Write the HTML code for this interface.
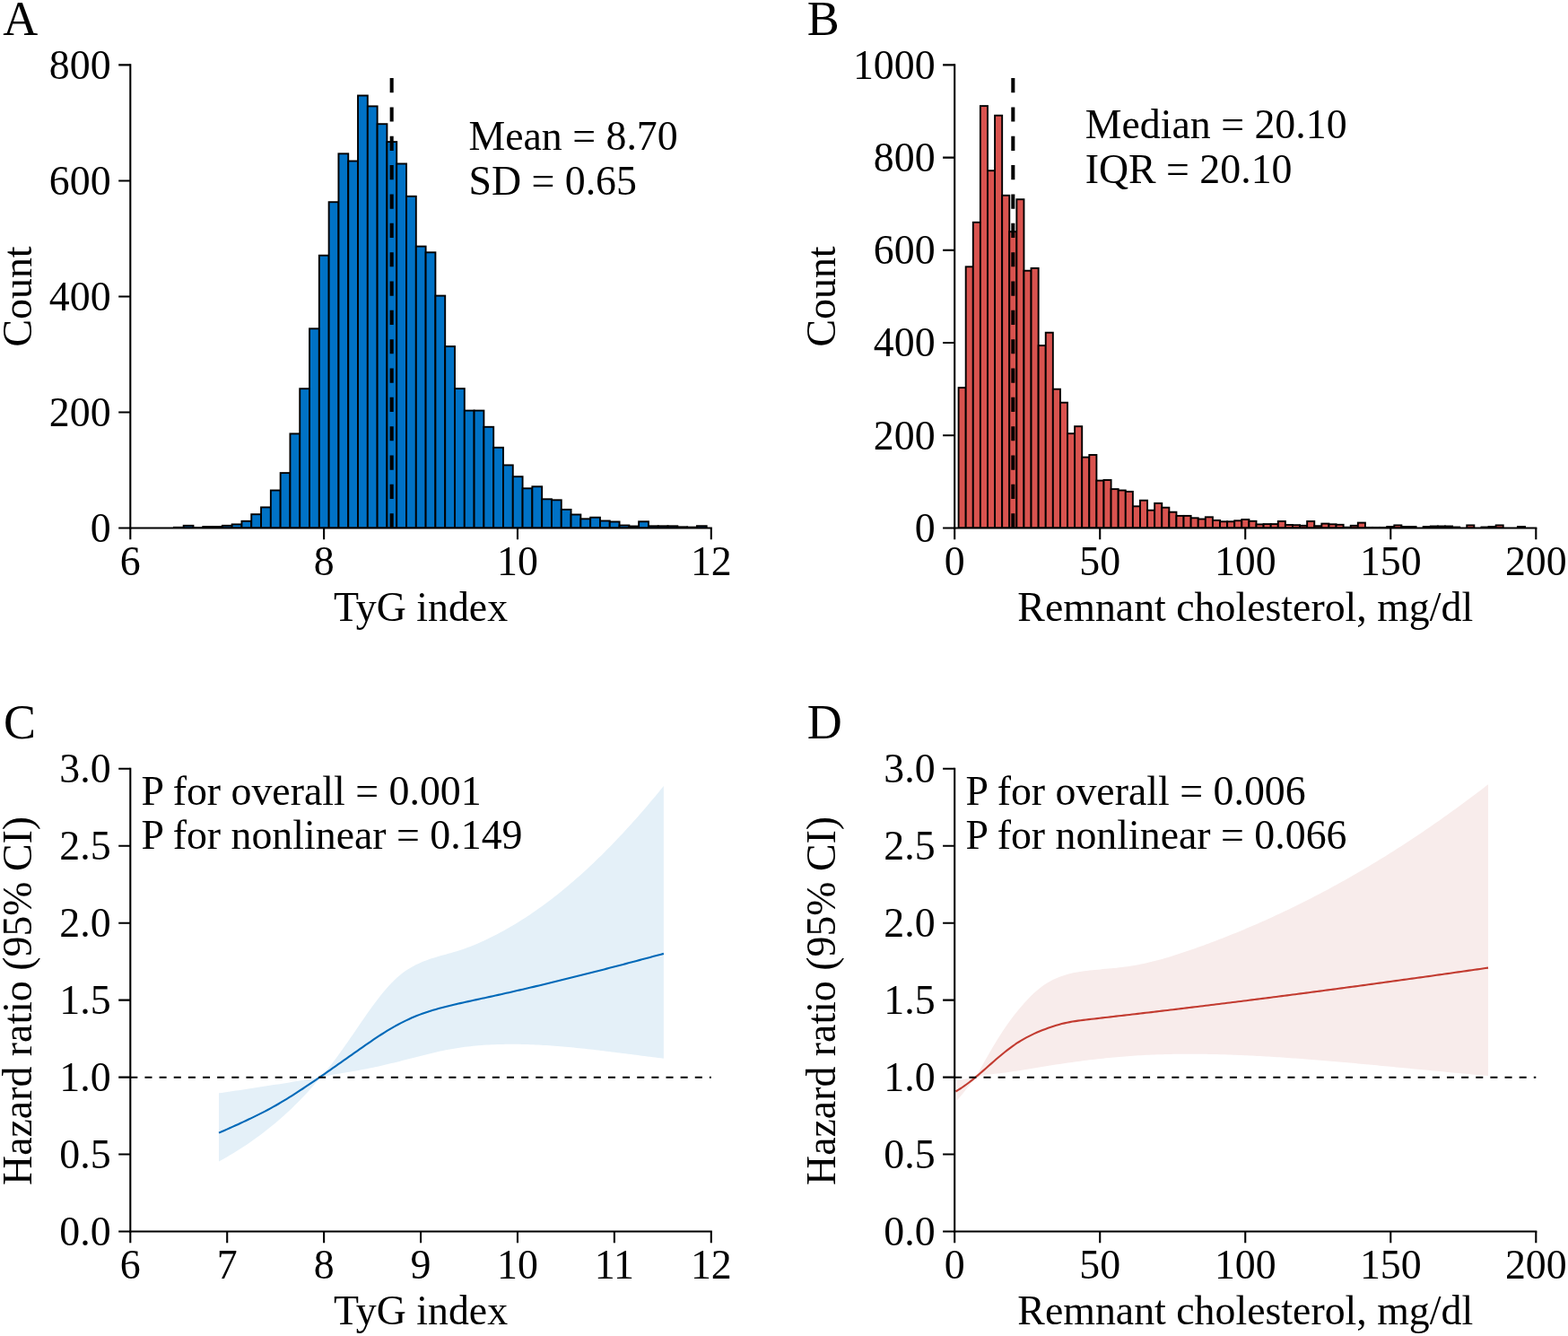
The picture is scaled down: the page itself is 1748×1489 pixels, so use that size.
<!DOCTYPE html>
<html lang="en">
<head>
<meta charset="utf-8">
<title>Distribution and hazard ratio of TyG index and remnant cholesterol</title>
<style>
html,body{margin:0;padding:0;background:#fff;}
body{width:1748px;height:1489px;overflow:hidden;}
svg{display:block;font-family:"Liberation Serif", "Times New Roman", serif;}
</style>
</head>
<body>
<svg width="1748" height="1489" viewBox="0 0 1748 1489">
<rect width="1748" height="1489" fill="#fff"/>
<clipPath id="clip0072C6"><rect x="145.3" y="0" width="649.5" height="589"/></clipPath>
<g fill="#0072C6" stroke="#000" stroke-width="1.9" stroke-linejoin="miter" clip-path="url(#clip0072C6)">
<rect x="193.88" y="587.8" width="10.8" height="0.7"/>
<rect x="204.68" y="585.8" width="10.8" height="2.7"/>
<rect x="215.47" y="588.1" width="10.8" height="0.4"/>
<rect x="226.27" y="587" width="10.8" height="1.5"/>
<rect x="237.07" y="587" width="10.8" height="1.5"/>
<rect x="247.87" y="585.8" width="10.8" height="2.7"/>
<rect x="258.66" y="584.4" width="10.8" height="4.1"/>
<rect x="269.46" y="580.8" width="10.8" height="7.7"/>
<rect x="280.26" y="573.2" width="10.8" height="15.3"/>
<rect x="291.05" y="565.4" width="10.8" height="23.1"/>
<rect x="301.85" y="546.5" width="10.8" height="42"/>
<rect x="312.65" y="527.1" width="10.8" height="61.4"/>
<rect x="323.44" y="483.4" width="10.8" height="105.1"/>
<rect x="334.24" y="433.2" width="10.8" height="155.3"/>
<rect x="345.04" y="366.3" width="10.8" height="222.2"/>
<rect x="355.84" y="284.7" width="10.8" height="303.8"/>
<rect x="366.63" y="225.2" width="10.8" height="363.3"/>
<rect x="377.43" y="171.3" width="10.8" height="417.2"/>
<rect x="388.23" y="179.5" width="10.8" height="409"/>
<rect x="399.02" y="106.5" width="10.8" height="482"/>
<rect x="409.82" y="118.4" width="10.8" height="470.1"/>
<rect x="420.62" y="138.2" width="10.8" height="450.3"/>
<rect x="431.41" y="158.1" width="10.8" height="430.4"/>
<rect x="442.21" y="182.5" width="10.8" height="406"/>
<rect x="453.01" y="218.8" width="10.8" height="369.7"/>
<rect x="463.81" y="274.6" width="10.8" height="313.9"/>
<rect x="474.6" y="281.3" width="10.8" height="307.2"/>
<rect x="485.4" y="329.6" width="10.8" height="258.9"/>
<rect x="496.2" y="386.1" width="10.8" height="202.4"/>
<rect x="506.99" y="433.1" width="10.8" height="155.4"/>
<rect x="517.79" y="457.6" width="10.8" height="130.9"/>
<rect x="528.59" y="457.6" width="10.8" height="130.9"/>
<rect x="539.38" y="475.8" width="10.8" height="112.7"/>
<rect x="550.18" y="498.8" width="10.8" height="89.7"/>
<rect x="560.98" y="518.4" width="10.8" height="70.1"/>
<rect x="571.78" y="531.2" width="10.8" height="57.3"/>
<rect x="582.57" y="544.3" width="10.8" height="44.2"/>
<rect x="593.37" y="542.3" width="10.8" height="46.2"/>
<rect x="604.17" y="556.3" width="10.8" height="32.2"/>
<rect x="614.96" y="557.3" width="10.8" height="31.2"/>
<rect x="625.76" y="567.9" width="10.8" height="20.6"/>
<rect x="636.56" y="573.5" width="10.8" height="15"/>
<rect x="647.35" y="578.3" width="10.8" height="10.2"/>
<rect x="658.15" y="576.7" width="10.8" height="11.8"/>
<rect x="668.95" y="580.5" width="10.8" height="8"/>
<rect x="679.75" y="581.5" width="10.8" height="7"/>
<rect x="690.54" y="585.5" width="10.8" height="3"/>
<rect x="701.34" y="586.5" width="10.8" height="2"/>
<rect x="712.14" y="581.3" width="10.8" height="7.2"/>
<rect x="722.93" y="586.3" width="10.8" height="2.2"/>
<rect x="733.73" y="586.3" width="10.8" height="2.2"/>
<rect x="744.53" y="586.3" width="10.8" height="2.2"/>
<rect x="755.32" y="587.3" width="10.8" height="1.2"/>
<rect x="766.12" y="587.6" width="10.8" height="0.9"/>
<rect x="776.92" y="586.2" width="10.8" height="2.3"/>
</g>
<path d="M436.67 87.1V588.5" stroke="#000" stroke-width="4.04" stroke-dasharray="16.17 16.17" fill="none"/>
<g stroke="#000" stroke-width="2.08" fill="none" stroke-linecap="butt">
<path d="M145.3 71.36V589.54"/>
<path d="M144.26 588.5H793.84"/>
<path d="M145.3 588.5v12.8M361.13 588.5v12.8M576.97 588.5v12.8M792.8 588.5v12.8M145.3 588.5h-13.1M145.3 459.48h-13.1M145.3 330.45h-13.1M145.3 201.43h-13.1M145.3 72.4h-13.1"/>
</g>
<g font-size="45.83" fill="#000" text-anchor="middle">
<text x="145.3" y="640.5">6</text>
<text x="361.13" y="640.5">8</text>
<text x="576.97" y="640.5">10</text>
<text x="792.8" y="640.5">12</text>
<text x="469.05" y="691.6">TyG index</text>
<text transform="translate(35 330.45) rotate(-90)">Count</text>
</g>
<g font-size="45.83" fill="#000" text-anchor="end">
<text x="123.6" y="603.8">0</text>
<text x="123.6" y="474.78">200</text>
<text x="123.6" y="345.75">400</text>
<text x="123.6" y="216.73">600</text>
<text x="123.6" y="87.7">800</text>
</g>
<text x="3.3" y="39" font-size="54">A</text>
<text x="522.4" y="167.1" font-size="45.83">Mean = 8.70</text>
<text x="522.4" y="216.6" font-size="45.83">SD = 0.65</text>
<clipPath id="clipD9534F"><rect x="1064.2" y="0" width="650.1" height="589"/></clipPath>
<g fill="#D9534F" stroke="#000" stroke-width="1.9" stroke-linejoin="miter" clip-path="url(#clipD9534F)">
<rect x="1068.6" y="432.1" width="8.1" height="156.4"/>
<rect x="1076.69" y="297.3" width="8.1" height="291.2"/>
<rect x="1084.79" y="247.8" width="8.1" height="340.7"/>
<rect x="1092.88" y="118.1" width="8.1" height="470.4"/>
<rect x="1100.98" y="190.2" width="8.1" height="398.3"/>
<rect x="1109.07" y="128.7" width="8.1" height="459.8"/>
<rect x="1117.17" y="217.8" width="8.1" height="370.7"/>
<rect x="1125.26" y="258.2" width="8.1" height="330.3"/>
<rect x="1133.36" y="222.2" width="8.1" height="366.3"/>
<rect x="1141.45" y="301.7" width="8.1" height="286.8"/>
<rect x="1149.55" y="298.9" width="8.1" height="289.6"/>
<rect x="1157.64" y="385.1" width="8.1" height="203.4"/>
<rect x="1165.74" y="370.7" width="8.1" height="217.8"/>
<rect x="1173.84" y="433.7" width="8.1" height="154.8"/>
<rect x="1181.93" y="448.7" width="8.1" height="139.8"/>
<rect x="1190.02" y="483.2" width="8.1" height="105.3"/>
<rect x="1198.12" y="475.2" width="8.1" height="113.3"/>
<rect x="1206.21" y="509.6" width="8.1" height="78.9"/>
<rect x="1214.31" y="507" width="8.1" height="81.5"/>
<rect x="1222.4" y="535.6" width="8.1" height="52.9"/>
<rect x="1230.5" y="535" width="8.1" height="53.5"/>
<rect x="1238.59" y="545.1" width="8.1" height="43.4"/>
<rect x="1246.69" y="546.5" width="8.1" height="42"/>
<rect x="1254.78" y="547.9" width="8.1" height="40.6"/>
<rect x="1262.88" y="564.3" width="8.1" height="24.2"/>
<rect x="1270.97" y="557.7" width="8.1" height="30.8"/>
<rect x="1279.07" y="568.7" width="8.1" height="19.8"/>
<rect x="1287.16" y="560.9" width="8.1" height="27.6"/>
<rect x="1295.26" y="565.7" width="8.1" height="22.8"/>
<rect x="1303.36" y="570.7" width="8.1" height="17.8"/>
<rect x="1311.45" y="574.9" width="8.1" height="13.6"/>
<rect x="1319.54" y="574.9" width="8.1" height="13.6"/>
<rect x="1327.64" y="577.3" width="8.1" height="11.2"/>
<rect x="1335.73" y="578.5" width="8.1" height="10"/>
<rect x="1343.83" y="576.3" width="8.1" height="12.2"/>
<rect x="1351.92" y="579.9" width="8.1" height="8.6"/>
<rect x="1360.02" y="581.3" width="8.1" height="7.2"/>
<rect x="1368.12" y="581.3" width="8.1" height="7.2"/>
<rect x="1376.21" y="580.3" width="8.1" height="8.2"/>
<rect x="1384.3" y="579" width="8.1" height="9.5"/>
<rect x="1392.4" y="580.8" width="8.1" height="7.7"/>
<rect x="1400.49" y="584.4" width="8.1" height="4.1"/>
<rect x="1408.59" y="584.1" width="8.1" height="4.4"/>
<rect x="1416.68" y="584.1" width="8.1" height="4.4"/>
<rect x="1424.78" y="581" width="8.1" height="7.5"/>
<rect x="1432.88" y="585" width="8.1" height="3.5"/>
<rect x="1440.97" y="585.2" width="8.1" height="3.3"/>
<rect x="1449.07" y="585.8" width="8.1" height="2.7"/>
<rect x="1457.16" y="581" width="8.1" height="7.5"/>
<rect x="1465.25" y="586.2" width="8.1" height="2.3"/>
<rect x="1473.35" y="583.6" width="8.1" height="4.9"/>
<rect x="1481.44" y="584.3" width="8.1" height="4.2"/>
<rect x="1489.54" y="584.8" width="8.1" height="3.7"/>
<rect x="1497.63" y="587.7" width="8.1" height="0.8"/>
<rect x="1505.73" y="585.8" width="8.1" height="2.7"/>
<rect x="1513.82" y="582.6" width="8.1" height="5.9"/>
<rect x="1521.92" y="587.9" width="8.1" height="0.6"/>
<rect x="1530.01" y="587.9" width="8.1" height="0.6"/>
<rect x="1538.11" y="587.9" width="8.1" height="0.6"/>
<rect x="1546.2" y="587" width="8.1" height="1.5"/>
<rect x="1554.3" y="585.4" width="8.1" height="3.1"/>
<rect x="1562.39" y="587" width="8.1" height="1.5"/>
<rect x="1570.49" y="587" width="8.1" height="1.5"/>
<rect x="1586.68" y="587" width="8.1" height="1.5"/>
<rect x="1594.78" y="586.5" width="8.1" height="2"/>
<rect x="1602.87" y="586.5" width="8.1" height="2"/>
<rect x="1610.96" y="586.5" width="8.1" height="2"/>
<rect x="1619.06" y="587.5" width="8.1" height="1"/>
<rect x="1635.25" y="585.4" width="8.1" height="3.1"/>
<rect x="1651.44" y="587.5" width="8.1" height="1"/>
<rect x="1659.53" y="587" width="8.1" height="1.5"/>
<rect x="1667.63" y="585.4" width="8.1" height="3.1"/>
<rect x="1691.91" y="587" width="8.1" height="1.5"/>
</g>
<path d="M1129.33 87.1V588.5" stroke="#000" stroke-width="4.04" stroke-dasharray="16.17 16.17" fill="none"/>
<g stroke="#000" stroke-width="2.08" fill="none" stroke-linecap="butt">
<path d="M1064.2 71.36V589.54"/>
<path d="M1063.16 588.5H1713.34"/>
<path d="M1064.2 588.5v12.8M1226.22 588.5v12.8M1388.25 588.5v12.8M1550.28 588.5v12.8M1712.3 588.5v12.8M1064.2 588.5h-13.1M1064.2 485.28h-13.1M1064.2 382.06h-13.1M1064.2 278.84h-13.1M1064.2 175.62h-13.1M1064.2 72.4h-13.1"/>
</g>
<g font-size="45.83" fill="#000" text-anchor="middle">
<text x="1064.2" y="640.5">0</text>
<text x="1226.22" y="640.5">50</text>
<text x="1388.25" y="640.5">100</text>
<text x="1550.28" y="640.5">150</text>
<text x="1712.3" y="640.5">200</text>
<text x="1388.25" y="691.6">Remnant cholesterol, mg/dl</text>
<text transform="translate(930.5 330.45) rotate(-90)">Count</text>
</g>
<g font-size="45.83" fill="#000" text-anchor="end">
<text x="1042.6" y="603.8">0</text>
<text x="1042.6" y="500.58">200</text>
<text x="1042.6" y="397.36">400</text>
<text x="1042.6" y="294.14">600</text>
<text x="1042.6" y="190.92">800</text>
<text x="1042.6" y="87.7">1000</text>
</g>
<text x="899.8" y="39" font-size="54">B</text>
<text x="1209.7" y="154.2" font-size="45.83">Median = 20.10</text>
<text x="1209.7" y="203.5" font-size="45.83">IQR = 20.10</text>
<path d="M244 1218.37L247.15 1217.91L250.29 1217.45L253.44 1216.99L256.59 1216.53L259.74 1216.06L262.88 1215.6L266.03 1215.13L269.18 1214.66L272.32 1214.19L275.47 1213.72L278.62 1213.24L281.77 1212.76L284.91 1212.28L288.06 1211.8L291.21 1211.32L294.36 1210.83L297.5 1210.35L300.65 1209.86L303.8 1209.37L306.94 1208.87L310.09 1208.38L313.24 1207.88L316.39 1207.38L319.53 1206.88L322.68 1206.38L325.83 1205.87L328.98 1205.36L332.12 1204.85L335.27 1204.34L338.42 1203.83L341.56 1203.31L344.71 1202.79L347.86 1202.27L351.01 1201.75L354.15 1201.23L357.3 1200.7L360.34 1197.3L363.37 1193.74L366.41 1190.04L369.44 1186.21L372.48 1182.27L375.52 1178.21L378.55 1174.07L381.59 1169.84L384.62 1165.55L387.66 1161.21L390.7 1156.83L393.73 1152.41L396.77 1147.98L399.81 1143.54L402.84 1139.12L405.88 1134.72L408.91 1130.36L411.95 1126.07L414.99 1121.85L418.02 1117.73L421.06 1113.71L424.09 1109.81L427.13 1106.05L430.17 1102.44L433.2 1099L436.24 1095.74L439.27 1092.69L442.31 1089.85L445.35 1087.22L448.38 1084.8L451.42 1082.57L454.46 1080.53L457.49 1078.65L460.53 1076.93L463.56 1075.36L466.6 1073.91L469.64 1072.57L472.67 1071.33L475.71 1070.17L478.74 1069.1L481.78 1068.08L484.82 1067.13L487.85 1066.21L490.89 1065.34L493.93 1064.48L496.96 1063.64L500 1062.79L503.03 1061.94L506.07 1061.06L509.11 1060.15L512.14 1059.19L515.18 1058.19L518.21 1057.13L521.25 1056.03L524.29 1054.88L527.32 1053.69L530.36 1052.45L533.39 1051.16L536.43 1049.83L539.47 1048.46L542.5 1047.05L545.54 1045.59L548.58 1044.1L551.61 1042.56L554.65 1040.99L557.68 1039.37L560.72 1037.72L563.76 1036.03L566.79 1034.3L569.83 1032.54L572.86 1030.74L575.9 1028.9L578.94 1027.03L581.97 1025.11L585.01 1023.16L588.04 1021.18L591.08 1019.15L594.12 1017.09L597.15 1015L600.19 1012.86L603.23 1010.69L606.26 1008.48L609.3 1006.24L612.33 1003.95L615.37 1001.63L618.41 999.28L621.44 996.89L624.48 994.46L627.51 991.99L630.55 989.49L633.59 986.95L636.62 984.37L639.66 981.76L642.69 979.11L645.73 976.42L648.77 973.7L651.8 970.95L654.84 968.15L657.88 965.32L660.91 962.46L663.95 959.56L666.98 956.62L670.02 953.65L673.06 950.64L676.09 947.6L679.13 944.52L682.16 941.41L685.2 938.27L688.24 935.09L691.27 931.87L694.31 928.63L697.34 925.35L700.38 922.03L703.42 918.68L706.45 915.31L709.49 911.89L712.52 908.45L715.56 904.98L718.6 901.47L721.63 897.93L724.67 894.37L727.71 890.77L730.74 887.14L733.78 883.49L736.81 879.81L739.85 876.09L739.85 1179.66L736.81 1179.29L733.78 1178.92L730.74 1178.54L727.71 1178.16L724.67 1177.78L721.63 1177.4L718.6 1177.02L715.56 1176.63L712.52 1176.24L709.49 1175.86L706.45 1175.47L703.42 1175.08L700.38 1174.69L697.34 1174.31L694.31 1173.92L691.27 1173.54L688.24 1173.15L685.2 1172.77L682.16 1172.39L679.13 1172.02L676.09 1171.65L673.06 1171.28L670.02 1170.92L666.98 1170.56L663.95 1170.2L660.91 1169.85L657.88 1169.51L654.84 1169.17L651.8 1168.84L648.77 1168.52L645.73 1168.2L642.69 1167.89L639.66 1167.59L636.62 1167.3L633.59 1167.01L630.55 1166.74L627.51 1166.47L624.48 1166.22L621.44 1165.97L618.41 1165.74L615.37 1165.51L612.33 1165.3L609.3 1165.1L606.26 1164.92L603.23 1164.74L600.19 1164.58L597.15 1164.44L594.12 1164.3L591.08 1164.19L588.04 1164.08L585.01 1164L581.97 1163.92L578.94 1163.87L575.9 1163.83L572.86 1163.81L569.83 1163.8L566.79 1163.81L563.76 1163.84L560.72 1163.89L557.68 1163.96L554.65 1164.04L551.61 1164.15L548.58 1164.28L545.54 1164.43L542.5 1164.6L539.47 1164.8L536.43 1165.01L533.39 1165.26L530.36 1165.53L527.32 1165.82L524.29 1166.14L521.25 1166.49L518.21 1166.87L515.18 1167.28L512.14 1167.71L509.11 1168.18L506.07 1168.67L503.03 1169.2L500 1169.76L496.96 1170.35L493.93 1170.97L490.89 1171.61L487.85 1172.28L484.82 1172.97L481.78 1173.69L478.74 1174.42L475.71 1175.16L472.67 1175.92L469.64 1176.68L466.6 1177.45L463.56 1178.23L460.53 1179.01L457.49 1179.79L454.46 1180.58L451.42 1181.35L448.38 1182.12L445.35 1182.89L442.31 1183.64L439.27 1184.39L436.24 1185.12L433.2 1185.85L430.17 1186.56L427.13 1187.26L424.09 1187.95L421.06 1188.63L418.02 1189.28L414.99 1189.93L411.95 1190.56L408.91 1191.17L405.88 1191.76L402.84 1192.33L399.81 1192.88L396.77 1193.42L393.73 1193.94L390.7 1194.45L387.66 1194.95L384.62 1195.46L381.59 1195.96L378.55 1196.48L375.52 1197.01L372.48 1197.56L369.44 1198.12L366.41 1198.72L363.37 1199.34L360.34 1200L357.3 1200.7L354.15 1204.45L351.01 1208.12L347.86 1211.7L344.71 1215.21L341.56 1218.64L338.42 1221.99L335.27 1225.26L332.12 1228.47L328.98 1231.6L325.83 1234.67L322.68 1237.66L319.53 1240.59L316.39 1243.46L313.24 1246.26L310.09 1249L306.94 1251.67L303.8 1254.29L300.65 1256.85L297.5 1259.36L294.36 1261.81L291.21 1264.2L288.06 1266.55L284.91 1268.84L281.77 1271.08L278.62 1273.27L275.47 1275.41L272.32 1277.51L269.18 1279.56L266.03 1281.56L262.88 1283.52L259.74 1285.44L256.59 1287.31L253.44 1289.14L250.29 1290.94L247.15 1292.69L244 1294.41Z" fill="#E4F0F8" stroke="none"/>
<path d="M244 1262.66L247.02 1261.31L250.05 1259.97L253.07 1258.62L256.09 1257.27L259.12 1255.91L262.14 1254.54L265.16 1253.17L268.19 1251.79L271.21 1250.4L274.23 1248.99L277.26 1247.56L280.28 1246.12L283.31 1244.66L286.33 1243.18L289.35 1241.67L292.38 1240.13L295.4 1238.57L298.42 1236.97L301.45 1235.34L304.47 1233.67L307.49 1231.97L310.52 1230.23L313.54 1228.46L316.56 1226.66L319.59 1224.82L322.61 1222.96L325.63 1221.07L328.66 1219.15L331.68 1217.21L334.7 1215.24L337.73 1213.25L340.75 1211.24L343.77 1209.21L346.8 1207.17L349.82 1205.11L352.85 1203.04L355.87 1200.95L358.89 1198.86L361.92 1196.77L364.94 1194.66L367.96 1192.55L370.99 1190.44L374.01 1188.32L377.03 1186.19L380.06 1184.07L383.08 1181.94L386.1 1179.81L389.13 1177.68L392.15 1175.55L395.17 1173.42L398.2 1171.29L401.22 1169.17L404.24 1167.05L407.27 1164.95L410.29 1162.86L413.31 1160.78L416.34 1158.73L419.36 1156.7L422.39 1154.71L425.41 1152.75L428.43 1150.84L431.46 1148.97L434.48 1147.15L437.5 1145.38L440.53 1143.66L443.55 1142L446.57 1140.4L449.6 1138.85L452.62 1137.37L455.64 1135.94L458.67 1134.58L461.69 1133.29L464.71 1132.05L467.74 1130.88L470.76 1129.77L473.78 1128.71L476.81 1127.7L479.83 1126.73L482.85 1125.81L485.88 1124.93L488.9 1124.08L491.93 1123.27L494.95 1122.48L497.97 1121.72L501 1120.97L504.02 1120.24L507.04 1119.52L510.07 1118.82L513.09 1118.13L516.11 1117.45L519.14 1116.78L522.16 1116.11L525.18 1115.45L528.21 1114.8L531.23 1114.15L534.25 1113.49L537.28 1112.84L540.3 1112.19L543.32 1111.53L546.35 1110.87L549.37 1110.21L552.39 1109.54L555.42 1108.87L558.44 1108.2L561.46 1107.52L564.49 1106.84L567.51 1106.15L570.54 1105.47L573.56 1104.78L576.58 1104.08L579.61 1103.39L582.63 1102.69L585.65 1101.98L588.68 1101.28L591.7 1100.57L594.72 1099.86L597.75 1099.14L600.77 1098.43L603.79 1097.71L606.82 1096.98L609.84 1096.26L612.86 1095.53L615.89 1094.79L618.91 1094.06L621.93 1093.32L624.96 1092.58L627.98 1091.84L631 1091.1L634.03 1090.35L637.05 1089.6L640.08 1088.84L643.1 1088.09L646.12 1087.33L649.15 1086.57L652.17 1085.81L655.19 1085.04L658.22 1084.28L661.24 1083.51L664.26 1082.74L667.29 1081.96L670.31 1081.19L673.33 1080.41L676.36 1079.63L679.38 1078.85L682.4 1078.07L685.43 1077.28L688.45 1076.49L691.47 1075.7L694.5 1074.91L697.52 1074.12L700.54 1073.33L703.57 1072.53L706.59 1071.73L709.62 1070.93L712.64 1070.13L715.66 1069.33L718.69 1068.53L721.71 1067.72L724.73 1066.92L727.76 1066.11L730.78 1065.3L733.8 1064.49L736.83 1063.68L739.85 1062.87" fill="none" stroke="#0069B8" stroke-width="2.1" stroke-linejoin="round"/>
<path d="M145.3 1200.7H792.8" stroke="#000" stroke-width="1.9" stroke-dasharray="8.07 8.07" fill="none"/>
<g stroke="#000" stroke-width="2.08" fill="none" stroke-linecap="butt">
<path d="M145.3 855.76V1373.54"/>
<path d="M144.26 1372.5H793.84"/>
<path d="M145.3 1372.5v12.8M253.22 1372.5v12.8M361.13 1372.5v12.8M469.05 1372.5v12.8M576.97 1372.5v12.8M684.88 1372.5v12.8M792.8 1372.5v12.8M145.3 1372.5h-13.1M145.3 1286.55h-13.1M145.3 1200.6h-13.1M145.3 1114.65h-13.1M145.3 1028.7h-13.1M145.3 942.75h-13.1M145.3 856.8h-13.1"/>
</g>
<g font-size="45.83" fill="#000" text-anchor="middle">
<text x="145.3" y="1424.5">6</text>
<text x="253.22" y="1424.5">7</text>
<text x="361.13" y="1424.5">8</text>
<text x="469.05" y="1424.5">9</text>
<text x="576.97" y="1424.5">10</text>
<text x="684.88" y="1424.5">11</text>
<text x="792.8" y="1424.5">12</text>
<text x="469.05" y="1475.6">TyG index</text>
<text transform="translate(35 1115.45) rotate(-90)">Hazard ratio (95% CI)</text>
</g>
<g font-size="45.83" fill="#000" text-anchor="end">
<text x="123.6" y="1387.8">0.0</text>
<text x="123.6" y="1301.85">0.5</text>
<text x="123.6" y="1215.9">1.0</text>
<text x="123.6" y="1129.95">1.5</text>
<text x="123.6" y="1044">2.0</text>
<text x="123.6" y="958.05">2.5</text>
<text x="123.6" y="872.1">3.0</text>
</g>
<text x="4.1" y="823.2" font-size="54">C</text>
<text x="157.4" y="896.7" font-size="45.83">P for overall = 0.001</text>
<text x="157.4" y="946.4" font-size="45.83">P for nonlinear = 0.149</text>
<path d="M1066.6 1204.12L1069.6 1203.63L1072.6 1203.15L1075.6 1202.66L1078.6 1202.17L1081.6 1201.68L1084.6 1201.19L1087.6 1200.7L1090.62 1195.32L1093.65 1189.93L1096.67 1184.56L1099.69 1179.22L1102.72 1173.94L1105.74 1168.75L1108.76 1163.68L1111.79 1158.74L1114.81 1153.96L1117.83 1149.33L1120.86 1144.85L1123.88 1140.53L1126.9 1136.37L1129.93 1132.35L1132.95 1128.47L1135.97 1124.74L1139 1121.14L1142.02 1117.69L1145.04 1114.39L1148.07 1111.25L1151.09 1108.29L1154.11 1105.5L1157.14 1102.9L1160.16 1100.5L1163.18 1098.29L1166.21 1096.28L1169.23 1094.45L1172.25 1092.79L1175.28 1091.29L1178.3 1089.94L1181.32 1088.74L1184.34 1087.66L1187.37 1086.69L1190.39 1085.82L1193.41 1085.06L1196.44 1084.37L1199.46 1083.77L1202.48 1083.24L1205.51 1082.76L1208.53 1082.34L1211.55 1081.96L1214.58 1081.61L1217.6 1081.28L1220.62 1080.98L1223.65 1080.68L1226.67 1080.4L1229.69 1080.12L1232.72 1079.84L1235.74 1079.56L1238.76 1079.28L1241.79 1078.98L1244.81 1078.67L1247.83 1078.34L1250.86 1077.99L1253.88 1077.61L1256.9 1077.2L1259.93 1076.76L1262.95 1076.27L1265.97 1075.75L1269 1075.19L1272.02 1074.59L1275.04 1073.96L1278.07 1073.29L1281.09 1072.59L1284.11 1071.86L1287.14 1071.1L1290.16 1070.31L1293.18 1069.49L1296.21 1068.65L1299.23 1067.78L1302.25 1066.88L1305.28 1065.97L1308.3 1065.03L1311.32 1064.07L1314.35 1063.09L1317.37 1062.09L1320.39 1061.08L1323.42 1060.05L1326.44 1059.01L1329.46 1057.96L1332.49 1056.89L1335.51 1055.82L1338.53 1054.73L1341.56 1053.64L1344.58 1052.53L1347.6 1051.41L1350.63 1050.28L1353.65 1049.14L1356.67 1047.99L1359.7 1046.83L1362.72 1045.66L1365.74 1044.47L1368.77 1043.28L1371.79 1042.07L1374.81 1040.86L1377.83 1039.63L1380.86 1038.39L1383.88 1037.14L1386.9 1035.88L1389.93 1034.61L1392.95 1033.32L1395.97 1032.03L1399 1030.72L1402.02 1029.41L1405.04 1028.08L1408.07 1026.74L1411.09 1025.39L1414.11 1024.03L1417.14 1022.65L1420.16 1021.27L1423.18 1019.87L1426.21 1018.46L1429.23 1017.04L1432.25 1015.61L1435.28 1014.17L1438.3 1012.72L1441.32 1011.25L1444.35 1009.77L1447.37 1008.29L1450.39 1006.78L1453.42 1005.27L1456.44 1003.75L1459.46 1002.21L1462.49 1000.67L1465.51 999.11L1468.53 997.54L1471.56 995.95L1474.58 994.36L1477.6 992.75L1480.63 991.14L1483.65 989.51L1486.67 987.86L1489.7 986.21L1492.72 984.54L1495.74 982.87L1498.77 981.18L1501.79 979.48L1504.81 977.76L1507.84 976.04L1510.86 974.3L1513.88 972.55L1516.91 970.79L1519.93 969.01L1522.95 967.23L1525.98 965.43L1529 963.62L1532.02 961.79L1535.05 959.96L1538.07 958.11L1541.09 956.25L1544.12 954.38L1547.14 952.5L1550.16 950.6L1553.19 948.7L1556.21 946.78L1559.23 944.84L1562.26 942.9L1565.28 940.94L1568.3 938.97L1571.32 936.99L1574.35 935L1577.37 932.99L1580.39 930.97L1583.42 928.94L1586.44 926.9L1589.46 924.85L1592.49 922.78L1595.51 920.7L1598.53 918.61L1601.56 916.5L1604.58 914.39L1607.6 912.26L1610.63 910.12L1613.65 907.97L1616.67 905.8L1619.7 903.62L1622.72 901.43L1625.74 899.23L1628.77 897.02L1631.79 894.79L1634.81 892.56L1637.84 890.31L1640.86 888.04L1643.88 885.77L1646.91 883.48L1649.93 881.19L1652.95 878.88L1655.98 876.55L1659 874.22L1659 1199.01L1655.98 1198.74L1652.95 1198.48L1649.93 1198.21L1646.91 1197.94L1643.88 1197.67L1640.86 1197.4L1637.84 1197.12L1634.81 1196.85L1631.79 1196.57L1628.77 1196.29L1625.74 1196.01L1622.72 1195.73L1619.7 1195.45L1616.67 1195.16L1613.65 1194.88L1610.63 1194.6L1607.6 1194.31L1604.58 1194.02L1601.56 1193.73L1598.53 1193.45L1595.51 1193.16L1592.49 1192.87L1589.46 1192.58L1586.44 1192.29L1583.42 1192L1580.39 1191.71L1577.37 1191.42L1574.35 1191.13L1571.32 1190.83L1568.3 1190.54L1565.28 1190.25L1562.26 1189.96L1559.23 1189.67L1556.21 1189.38L1553.19 1189.09L1550.16 1188.8L1547.14 1188.51L1544.12 1188.22L1541.09 1187.94L1538.07 1187.65L1535.05 1187.37L1532.02 1187.08L1529 1186.8L1525.98 1186.51L1522.95 1186.23L1519.93 1185.95L1516.91 1185.67L1513.88 1185.4L1510.86 1185.12L1507.84 1184.85L1504.81 1184.57L1501.79 1184.3L1498.77 1184.03L1495.74 1183.77L1492.72 1183.5L1489.7 1183.24L1486.67 1182.98L1483.65 1182.72L1480.63 1182.46L1477.6 1182.21L1474.58 1181.96L1471.56 1181.71L1468.53 1181.46L1465.51 1181.22L1462.49 1180.98L1459.46 1180.74L1456.44 1180.51L1453.42 1180.28L1450.39 1180.05L1447.37 1179.82L1444.35 1179.6L1441.32 1179.38L1438.3 1179.17L1435.28 1178.96L1432.25 1178.75L1429.23 1178.55L1426.21 1178.35L1423.18 1178.15L1420.16 1177.96L1417.14 1177.77L1414.11 1177.59L1411.09 1177.41L1408.07 1177.24L1405.04 1177.07L1402.02 1176.9L1399 1176.74L1395.97 1176.59L1392.95 1176.44L1389.93 1176.29L1386.9 1176.15L1383.88 1176.02L1380.86 1175.89L1377.83 1175.76L1374.81 1175.65L1371.79 1175.53L1368.77 1175.43L1365.74 1175.33L1362.72 1175.24L1359.7 1175.15L1356.67 1175.07L1353.65 1175L1350.63 1174.94L1347.6 1174.88L1344.58 1174.83L1341.56 1174.78L1338.53 1174.75L1335.51 1174.72L1332.49 1174.7L1329.46 1174.69L1326.44 1174.69L1323.42 1174.69L1320.39 1174.7L1317.37 1174.73L1314.35 1174.76L1311.32 1174.8L1308.3 1174.85L1305.28 1174.9L1302.25 1174.97L1299.23 1175.05L1296.21 1175.13L1293.18 1175.23L1290.16 1175.34L1287.14 1175.45L1284.11 1175.58L1281.09 1175.71L1278.07 1175.86L1275.04 1176.02L1272.02 1176.19L1269 1176.36L1265.97 1176.55L1262.95 1176.75L1259.93 1176.96L1256.9 1177.18L1253.88 1177.42L1250.86 1177.66L1247.83 1177.92L1244.81 1178.18L1241.79 1178.45L1238.76 1178.74L1235.74 1179.04L1232.72 1179.34L1229.69 1179.66L1226.67 1179.98L1223.65 1180.31L1220.62 1180.66L1217.6 1181.01L1214.58 1181.37L1211.55 1181.74L1208.53 1182.12L1205.51 1182.5L1202.48 1182.9L1199.46 1183.3L1196.44 1183.71L1193.41 1184.13L1190.39 1184.56L1187.37 1184.99L1184.34 1185.43L1181.32 1185.88L1178.3 1186.33L1175.28 1186.8L1172.25 1187.26L1169.23 1187.74L1166.21 1188.22L1163.18 1188.71L1160.16 1189.2L1157.14 1189.7L1154.11 1190.2L1151.09 1190.71L1148.07 1191.21L1145.04 1191.71L1142.02 1192.21L1139 1192.7L1135.97 1193.18L1132.95 1193.66L1129.93 1194.12L1126.9 1194.56L1123.88 1194.99L1120.86 1195.4L1117.83 1195.79L1114.81 1196.16L1111.79 1196.51L1108.76 1196.83L1105.74 1197.14L1102.72 1197.47L1099.69 1197.86L1096.67 1198.34L1093.65 1198.96L1090.62 1199.73L1087.6 1200.7L1084.6 1204.68L1081.6 1208.57L1078.6 1212.37L1075.6 1216.08L1072.6 1219.7L1069.6 1223.24L1066.6 1226.7Z" fill="#F8ECEB" stroke="none"/>
<path d="M1065.4 1216.5L1068.43 1214.69L1071.46 1212.75L1074.49 1210.68L1077.51 1208.5L1080.54 1206.22L1083.57 1203.84L1086.6 1201.38L1089.63 1198.85L1092.66 1196.26L1095.69 1193.63L1098.71 1190.96L1101.74 1188.28L1104.77 1185.6L1107.8 1182.93L1110.83 1180.3L1113.86 1177.72L1116.89 1175.2L1119.91 1172.74L1122.94 1170.36L1125.97 1168.06L1129 1165.85L1132.03 1163.74L1135.06 1161.74L1138.09 1159.86L1141.11 1158.08L1144.14 1156.41L1147.17 1154.83L1150.2 1153.34L1153.23 1151.92L1156.26 1150.58L1159.29 1149.3L1162.31 1148.07L1165.34 1146.9L1168.37 1145.77L1171.4 1144.71L1174.43 1143.71L1177.46 1142.77L1180.49 1141.9L1183.51 1141.1L1186.54 1140.37L1189.57 1139.71L1192.6 1139.12L1195.63 1138.58L1198.66 1138.1L1201.69 1137.65L1204.71 1137.24L1207.74 1136.86L1210.77 1136.49L1213.8 1136.14L1216.83 1135.79L1219.86 1135.44L1222.89 1135.09L1225.91 1134.75L1228.94 1134.4L1231.97 1134.05L1235 1133.7L1238.03 1133.36L1241.06 1133.01L1244.09 1132.66L1247.11 1132.31L1250.14 1131.97L1253.17 1131.62L1256.2 1131.27L1259.23 1130.92L1262.26 1130.57L1265.29 1130.22L1268.31 1129.86L1271.34 1129.51L1274.37 1129.16L1277.4 1128.8L1280.43 1128.45L1283.46 1128.09L1286.49 1127.73L1289.51 1127.38L1292.54 1127.02L1295.57 1126.66L1298.6 1126.3L1301.63 1125.94L1304.66 1125.58L1307.69 1125.22L1310.71 1124.85L1313.74 1124.49L1316.77 1124.13L1319.8 1123.76L1322.83 1123.39L1325.86 1123.03L1328.89 1122.66L1331.91 1122.29L1334.94 1121.92L1337.97 1121.56L1341 1121.19L1344.03 1120.81L1347.06 1120.44L1350.09 1120.07L1353.11 1119.7L1356.14 1119.32L1359.17 1118.95L1362.2 1118.57L1365.23 1118.2L1368.26 1117.82L1371.29 1117.45L1374.31 1117.07L1377.34 1116.69L1380.37 1116.31L1383.4 1115.93L1386.43 1115.55L1389.46 1115.17L1392.49 1114.78L1395.51 1114.4L1398.54 1114.02L1401.57 1113.63L1404.6 1113.25L1407.63 1112.86L1410.66 1112.48L1413.69 1112.09L1416.71 1111.7L1419.74 1111.31L1422.77 1110.92L1425.8 1110.53L1428.83 1110.14L1431.86 1109.75L1434.89 1109.36L1437.91 1108.97L1440.94 1108.57L1443.97 1108.18L1447 1107.79L1450.03 1107.39L1453.06 1106.99L1456.09 1106.6L1459.11 1106.2L1462.14 1105.8L1465.17 1105.4L1468.2 1105L1471.23 1104.6L1474.26 1104.2L1477.29 1103.8L1480.31 1103.4L1483.34 1103L1486.37 1102.6L1489.4 1102.19L1492.43 1101.79L1495.46 1101.38L1498.49 1100.98L1501.51 1100.57L1504.54 1100.16L1507.57 1099.75L1510.6 1099.35L1513.63 1098.94L1516.66 1098.53L1519.69 1098.12L1522.71 1097.71L1525.74 1097.3L1528.77 1096.88L1531.8 1096.47L1534.83 1096.06L1537.86 1095.64L1540.89 1095.23L1543.91 1094.81L1546.94 1094.4L1549.97 1093.98L1553 1093.57L1556.03 1093.15L1559.06 1092.73L1562.09 1092.31L1565.11 1091.89L1568.14 1091.47L1571.17 1091.05L1574.2 1090.63L1577.23 1090.21L1580.26 1089.79L1583.29 1089.36L1586.31 1088.94L1589.34 1088.52L1592.37 1088.09L1595.4 1087.67L1598.43 1087.24L1601.46 1086.82L1604.49 1086.39L1607.51 1085.96L1610.54 1085.54L1613.57 1085.11L1616.6 1084.68L1619.63 1084.25L1622.66 1083.82L1625.69 1083.39L1628.71 1082.96L1631.74 1082.53L1634.77 1082.09L1637.8 1081.66L1640.83 1081.23L1643.86 1080.8L1646.89 1080.36L1649.91 1079.93L1652.94 1079.49L1655.97 1079.06L1659 1078.62" fill="none" stroke="#C23B30" stroke-width="2.1" stroke-linejoin="round"/>
<path d="M1064.2 1200.7H1712.3" stroke="#000" stroke-width="1.9" stroke-dasharray="8.07 8.07" fill="none"/>
<g stroke="#000" stroke-width="2.08" fill="none" stroke-linecap="butt">
<path d="M1064.2 855.76V1373.54"/>
<path d="M1063.16 1372.5H1713.34"/>
<path d="M1064.2 1372.5v12.8M1226.22 1372.5v12.8M1388.25 1372.5v12.8M1550.28 1372.5v12.8M1712.3 1372.5v12.8M1064.2 1372.5h-13.1M1064.2 1286.55h-13.1M1064.2 1200.6h-13.1M1064.2 1114.65h-13.1M1064.2 1028.7h-13.1M1064.2 942.75h-13.1M1064.2 856.8h-13.1"/>
</g>
<g font-size="45.83" fill="#000" text-anchor="middle">
<text x="1064.2" y="1424.5">0</text>
<text x="1226.22" y="1424.5">50</text>
<text x="1388.25" y="1424.5">100</text>
<text x="1550.28" y="1424.5">150</text>
<text x="1712.3" y="1424.5">200</text>
<text x="1388.25" y="1475.6">Remnant cholesterol, mg/dl</text>
<text transform="translate(930.5 1115.45) rotate(-90)">Hazard ratio (95% CI)</text>
</g>
<g font-size="45.83" fill="#000" text-anchor="end">
<text x="1042.6" y="1387.8">0.0</text>
<text x="1042.6" y="1301.85">0.5</text>
<text x="1042.6" y="1215.9">1.0</text>
<text x="1042.6" y="1129.95">1.5</text>
<text x="1042.6" y="1044">2.0</text>
<text x="1042.6" y="958.05">2.5</text>
<text x="1042.6" y="872.1">3.0</text>
</g>
<text x="899.8" y="823.2" font-size="54">D</text>
<text x="1076.4" y="896.7" font-size="45.83">P for overall = 0.006</text>
<text x="1076.4" y="946.4" font-size="45.83">P for nonlinear = 0.066</text>
</svg>
</body>
</html>
